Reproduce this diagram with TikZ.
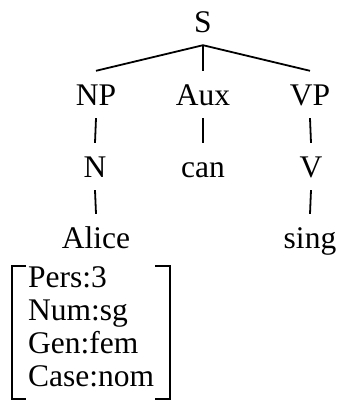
\documentclass[tikz,border=0pt]{standalone}
\usepackage{fontspec}
\setmainfont{Liberation Serif}
\usetikzlibrary{calc}
\definecolor{TreeInk}{HTML}{000000}
\tikzset{
  cat/.style={font=\fontsize{31.5}{33}\selectfont, text height=21pt, text depth=0pt,
    inner xsep=2pt, inner ysep=13pt, anchor=base},
  branch/.style={draw=TreeInk, line width=1.8pt},
  featbox/.style={font=\fontsize{31.5}{33}\selectfont, align=left,
    inner xsep=16pt, inner ysep=0pt, anchor=north west},
  bracket/.style={draw=TreeInk, line width=2pt}
}
\begin{document}
\begin{tikzpicture}[x=1pt, y=-1pt]
  \useasboundingbox (0,0) rectangle (341,405);
  \node[cat] (S) at (203,32) {S};
  \node[cat] (NP) at (96,105) {NP};
  \node[cat] (Aux) at (203,105) {Aux};
  \node[cat] (VP) at (310,105) {VP};
  \node[cat] (N) at (95,177) {N};
  \node[cat] (can) at (203,177) {can};
  \node[cat] (V) at (311,177) {V};
  \node[cat] (Alice) at (96,248) {Alice};
  \node[cat] (sing) at (310,248) {sing};
  \foreach \a/\b in {S/NP, S/Aux, S/VP, NP/N, Aux/can, VP/V, N/Alice, V/sing}
    \draw[branch] (\a.south) -- (\b.north);
  % feature matrix under Alice
  \node[featbox] (feat) at (12,266) {Pers:3\\Num:sg\\Gen:fem\\Case:nom};
  \draw[bracket] ($(feat.north west)+(14,0)$) -- (feat.north west)
    -- ($(feat.south west)+(0,12)$) -- ++(14,0);
  \draw[bracket] ($(feat.north east)+(-15,0)$) -- (feat.north east)
    -- ($(feat.south east)+(0,12)$) -- ++(-15,0);
\end{tikzpicture}
\end{document}
